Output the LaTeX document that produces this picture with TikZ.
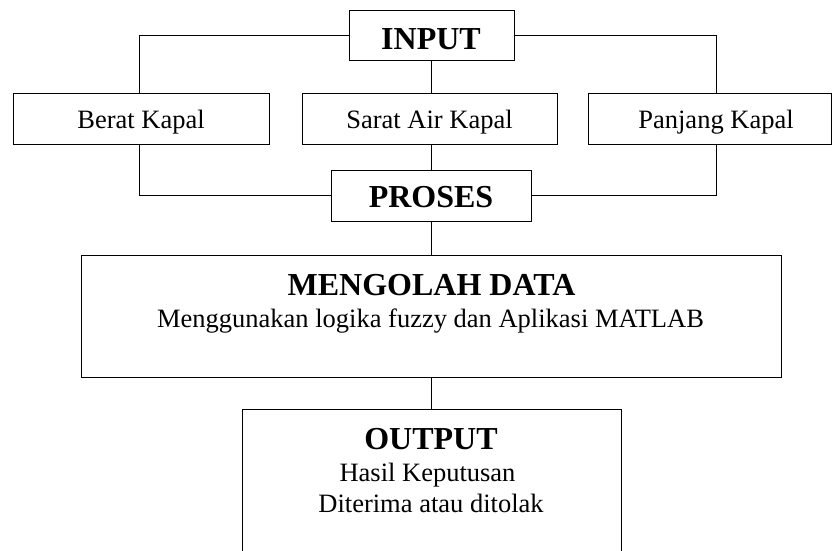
\documentclass[tikz,border=0pt]{standalone}
\usepackage{fontspec}
\setmainfont{Liberation Serif}
\tikzset{
  box/.style={draw=black, line width=1pt, rectangle, inner sep=0pt, anchor=center},
  conn/.style={draw=black, line width=1pt},
  reg/.style={anchor=base, inner sep=0pt, font=\fontsize{26.5}{31}\selectfont},
  bold/.style={anchor=base, inner sep=0pt, font=\fontsize{32}{36}\selectfont\bfseries},
}
\begin{document}
\begin{tikzpicture}[x=1pt, y=-1pt]
\path[use as bounding box, clip] (0,0) rectangle (832,551);
% boxes
\node[box, minimum width=165pt, minimum height=50pt] (inp) at (431.5,36) {};
\node[box, minimum width=256pt, minimum height=51pt] (ber) at (141,118.5) {};
\node[box, minimum width=255pt, minimum height=51pt] (sar) at (429.5,118.5) {};
\node[box, minimum width=243pt, minimum height=51pt] (pan) at (709.5,118.5) {};
\node[box, minimum width=200pt, minimum height=51pt] (pro) at (431,195.5) {};
\node[box, minimum width=700pt, minimum height=122pt] (olah) at (431,316) {};
\node[box, minimum width=379pt, minimum height=191pt] (out) at (431.5,504.5) {};
% texts
\node[bold] (tinp) at (431,50) {INPUT};
\node[reg] (tber) at (141,128) {Berat Kapal};
\node[reg] (tsar) at (429.5,128) {Sarat Air Kapal};
\node[reg] (tpan) at (716,128) {Panjang Kapal};
\node[bold] (tpro) at (431,207) {PROSES};
\node[bold] (tolah) at (431.5,295) {MENGOLAH DATA};
\node[reg] (tolah2) at (430.5,327) {Menggunakan logika fuzzy dan Aplikasi MATLAB};
\node[bold] (tout) at (431,449) {OUTPUT};
\node[reg] (tout2) at (427.5,481) {Hasil Keputusan};
\node[reg] (tout3) at (431,512) {Diterima atau ditolak};
% connector end points
\coordinate (pantop) at (716,93);
\coordinate (panbot) at (716,144);
\coordinate (bertop) at (139,93);
\coordinate (berbot) at (139,144);
% connectors
\draw[conn] (inp.west) -| (bertop);
\draw[conn] (inp.east) -| (pantop);
\draw[conn] (inp.south) -- (inp.south |- sar.north);
\draw[conn] (berbot) |- (pro.west);
\draw[conn] (panbot) |- (pro.east);
\draw[conn] (pro.north |- sar.south) -- (pro.north);
\draw[conn] (pro.south) -- (pro.south |- olah.north);
\draw[conn] (olah.south -| pro.south) -- (out.north -| pro.south);
\end{tikzpicture}
\end{document}
